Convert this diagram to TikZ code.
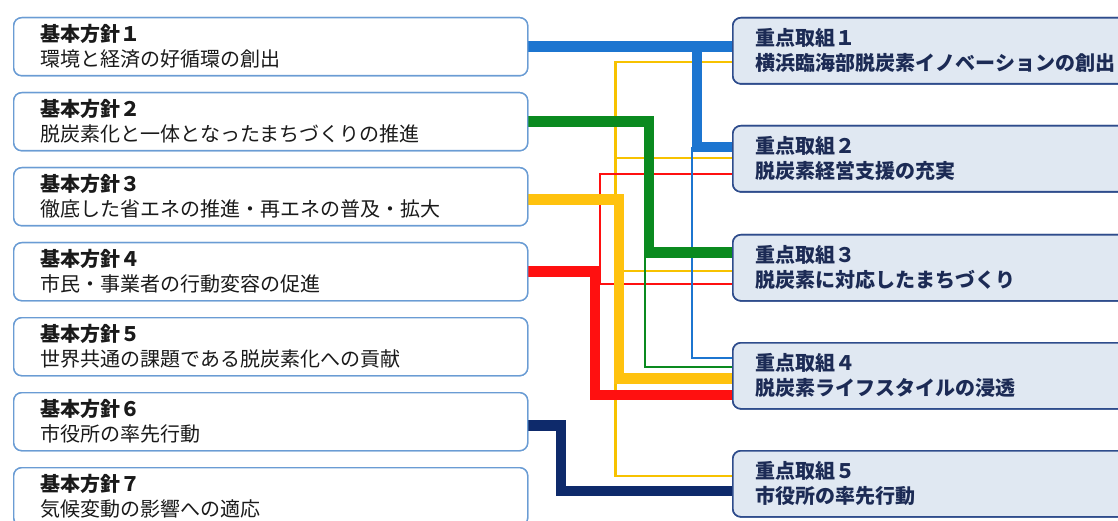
\documentclass[tikz,border=0pt]{standalone}
\usepackage{fontspec}
\setmainfont{Noto Sans CJK JP}
\definecolor{cblue}{HTML}{1C75D0}
\definecolor{cgreen}{HTML}{0A8A1F}
\definecolor{cyellow}{HTML}{FFC20E}
\definecolor{cyellowthin}{HTML}{F7C200}
\definecolor{cred}{HTML}{FF1010}
\definecolor{cnavy}{HTML}{0E2A6B}
\definecolor{lborder}{HTML}{6A9CD4}
\definecolor{rborder}{HTML}{2E4C8C}
\definecolor{rfill}{HTML}{E0E8F2}
\definecolor{rtext}{HTML}{1C2B55}
\definecolor{ltext}{HTML}{1A1A1A}
\begin{document}
\begin{tikzpicture}[x=1pt,y=-1pt,
  lbox/.style={draw=lborder, line width=1.4pt, rounded corners=8pt, fill=white,
    minimum width=514pt, minimum height=58pt, anchor=north west, align=left,
    text width=460pt, inner xsep=27pt, inner ysep=0pt, text=ltext,
    font=\fontsize{20pt}{25pt}\selectfont},
  rbox/.style={draw=rborder, line width=1.6pt, rounded corners=8pt, fill=rfill,
    minimum width=420pt, minimum height=66pt, anchor=north west, align=left,
    text width=374pt, inner xsep=23pt, inner ysep=0pt, text=rtext,
    font=\fontsize{20pt}{25pt}\selectfont\bfseries},
  thick line/.style={line width=10.5pt, line join=miter, line cap=butt},
  thin line/.style={line width=2.2pt, line join=miter, line cap=butt}]
\useasboundingbox (0,0) rectangle (1118,521);
\clip (0,0) rectangle (1118,521);
\fill[white] (0,0) rectangle (1118,521);

% boxes (placed first for anchors; redrawn on top later)
\path
  (13,17)  node[lbox] (L1) {\textbf{基本方針１}\\環境と経済の好循環の創出}
  (13,92)  node[lbox] (L2) {\textbf{基本方針２}\\脱炭素化と一体となったまちづくりの推進}
  (13,167) node[lbox] (L3) {\textbf{基本方針３}\\徹底した省エネの推進・再エネの普及・拡大}
  (13,242) node[lbox] (L4) {\textbf{基本方針４}\\市民・事業者の行動変容の促進}
  (13,317) node[lbox] (L5) {\textbf{基本方針５}\\世界共通の課題である脱炭素化への貢献}
  (13,392) node[lbox] (L6) {\textbf{基本方針６}\\市役所の率先行動}
  (13,467) node[lbox] (L7) {\textbf{基本方針７}\\気候変動の影響への適応};
\path
  (732,17)  node[rbox] (R1) {重点取組１\\横浜臨海部脱炭素イノベーションの創出}
  (732,125) node[rbox] (R2) {重点取組２\\脱炭素経営支援の充実}
  (732,234) node[rbox] (R3) {重点取組３\\脱炭素に対応したまちづくり}
  (732,342) node[rbox] (R4) {重点取組４\\脱炭素ライフスタイルの浸透}
  (732,450) node[rbox] (R5) {重点取組５\\市役所の率先行動};

% ports
\coordinate (l3p) at ([yshift=-3pt]L3.east);
\coordinate (l6p) at ([yshift=-4pt]L6.east);
\coordinate (r1y) at ([yshift=-45pt]R1.north west);
\coordinate (r2b) at ([yshift=-22pt]R2.north west);
\coordinate (r2y) at ([yshift=-33pt]R2.north west);
\coordinate (r2r) at ([yshift=-49pt]R2.north west);
\coordinate (r3g) at ([yshift=-18.5pt]R3.north west);
\coordinate (r3y) at ([yshift=-37pt]R3.north west);
\coordinate (r3r) at ([yshift=-50pt]R3.north west);
\coordinate (r4b) at ([yshift=-16pt]R4.north west);
\coordinate (r4g) at ([yshift=-25pt]R4.north west);
\coordinate (r4y) at ([yshift=-36.5pt]R4.north west);
\coordinate (r4r) at ([yshift=-53pt]R4.north west);
\coordinate (r5y) at ([yshift=-26pt]R5.north west);
\coordinate (r5n) at ([yshift=-41pt]R5.north west);
% columns
\coordinate (xn)  at (561,0);
\coordinate (xr)  at (595,0);
\coordinate (xrt) at (600,0);
\coordinate (xyt) at (615.5,0);
\coordinate (xy)  at (619,0);
\coordinate (xgt) at (645,0);
\coordinate (xg)  at (649,0);
\coordinate (xbt) at (692,0);
\coordinate (xb)  at (697,0);

% thin connectors
\draw[thin line, cyellowthin] (r1y) -- (r1y -| xyt) -- (r5y -| xyt) -- (r5y);
\draw[thin line, cyellowthin] (r2y -| xyt) -- (r2y);
\draw[thin line, cyellowthin] (r3y -| xyt) -- (r3y);
\draw[thin line, cred] (r2r) -- (r2r -| xrt) -- (r3r -| xrt) -- (r3r);
\draw[thin line, cgreen] (r3g -| xgt) -- (r4g -| xgt) -- (r4g);
\draw[thin line, cblue] (r2b -| xbt) -- (r4b -| xbt) -- (r4b);

% thick connectors
\draw[thick line, cblue] (L1.east) -- (L1.east -| R1.west);
\draw[thick line, cblue] (L1.east -| xb) -- (r2b -| xb) -- (r2b);
\draw[thick line, cgreen] (L2.east) -- (L2.east -| xg) -- (r3g -| xg) -- (r3g);
\draw[thick line, cyellow] (l3p) -- (l3p -| xy) -- (r4y -| xy) -- (r4y);
\draw[thick line, cred] (L4.east) -- (L4.east -| xr) -- (r4r -| xr) -- (r4r);
\draw[thick line, cnavy] (l6p) -- (l6p -| xn) -- (r5n -| xn) -- (r5n);

% boxes on top of connector ends
\path
  (13,17)  node[lbox] {\textbf{基本方針１}\\環境と経済の好循環の創出}
  (13,92)  node[lbox] {\textbf{基本方針２}\\脱炭素化と一体となったまちづくりの推進}
  (13,167) node[lbox] {\textbf{基本方針３}\\徹底した省エネの推進・再エネの普及・拡大}
  (13,242) node[lbox] {\textbf{基本方針４}\\市民・事業者の行動変容の促進}
  (13,317) node[lbox] {\textbf{基本方針５}\\世界共通の課題である脱炭素化への貢献}
  (13,392) node[lbox] {\textbf{基本方針６}\\市役所の率先行動}
  (13,467) node[lbox] {\textbf{基本方針７}\\気候変動の影響への適応};
\path
  (732,17)  node[rbox] {重点取組１\\横浜臨海部脱炭素イノベーションの創出}
  (732,125) node[rbox] {重点取組２\\脱炭素経営支援の充実}
  (732,234) node[rbox] {重点取組３\\脱炭素に対応したまちづくり}
  (732,342) node[rbox] {重点取組４\\脱炭素ライフスタイルの浸透}
  (732,450) node[rbox] {重点取組５\\市役所の率先行動};
\end{tikzpicture}
\end{document}
